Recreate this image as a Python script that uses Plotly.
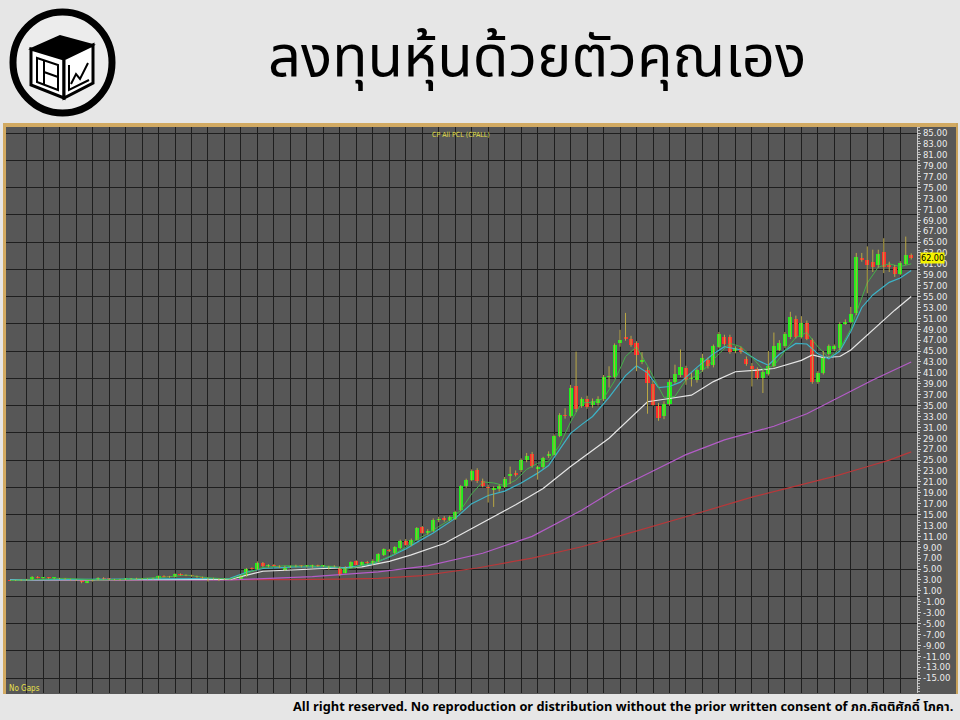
import plotly.graph_objects as go

W, H = 960, 720

# ---------------- data ----------------
opens = [2.90, 2.85, 2.90, 2.95, 3.05, 3.55, 3.35, 3.40, 3.30, 3.30,
         3.20, 3.10, 3.00, 2.90, 2.50, 2.80, 3.00, 3.40, 3.20, 3.10,
         3.00, 3.10, 3.20, 3.30, 3.15, 3.20, 3.25, 3.20, 3.70, 3.60,
         3.50, 4.00, 3.85, 3.80, 3.70, 3.50, 3.30, 3.25, 3.20, 3.15,
         3.10, 3.05, 3.20, 3.70, 5.10, 5.00, 6.10, 5.50, 5.80, 5.60,
         4.80, 5.40, 5.45, 5.60, 5.50, 5.30, 5.70, 5.50, 5.00, 5.50,
         5.40, 4.30, 5.40, 6.40, 5.80, 6.30, 6.00, 6.30, 7.50, 8.50,
         7.90, 8.90, 10.20, 9.40, 10.40, 12.70, 11.60, 11.90, 14.00, 14.30,
         14.00, 14.20, 15.80, 20.20, 21.40, 23.10, 21.20, 20.10, 19.50, 19.60,
         20.10, 22.00, 22.60, 23.20, 25.00, 26.20, 23.30, 23.80, 25.70, 26.00,
         29.40, 33.30, 33.00, 38.60, 34.90, 36.20, 35.10, 35.40, 36.20, 40.20,
         40.30, 46.50, 47.60, 47.30, 46.40, 43.00, 41.50, 38.90, 34.90, 33.00,
         35.30, 39.40, 40.60, 41.90, 39.80, 39.70, 41.50, 43.30, 42.40, 45.80,
         47.50, 47.60, 45.00, 45.50, 43.60, 42.30, 41.70, 40.00, 40.80, 42.20,
         45.20, 45.90, 47.50, 50.80, 47.60, 50.20, 47.00, 39.30, 41.00, 44.50,
         45.30, 45.50, 50.00, 50.40, 51.90, 62.10, 61.70, 61.40, 60.70, 63.10,
         60.70, 60.40, 59.20, 61.00, 62.60]
highs = [3.00, 3.00, 3.10, 3.20, 3.70, 3.70, 3.50, 3.50, 3.40, 3.40,
         3.30, 3.20, 3.10, 2.95, 2.80, 3.00, 3.50, 3.50, 3.30, 3.20,
         3.20, 3.30, 3.35, 3.40, 3.30, 3.30, 3.40, 3.80, 3.85, 3.75,
         4.20, 4.20, 4.00, 3.95, 3.80, 3.60, 3.40, 3.40, 3.30, 3.30,
         3.20, 3.20, 3.90, 5.20, 5.30, 6.40, 6.30, 5.90, 5.90, 5.70,
         5.60, 5.60, 5.80, 5.70, 5.70, 5.80, 5.80, 5.70, 5.60, 5.70,
         5.50, 5.50, 6.40, 6.60, 6.40, 6.50, 6.80, 7.90, 8.80, 8.70,
         9.20, 10.40, 10.50, 10.60, 12.70, 12.90, 12.30, 14.30, 14.60, 14.70,
         14.80, 15.70, 20.40, 21.60, 23.30, 23.50, 21.60, 20.50, 20.20, 20.50,
         21.90, 23.80, 23.10, 25.30, 26.30, 26.50, 24.00, 25.60, 26.60, 29.70,
         33.60, 34.50, 38.80, 44.90, 36.50, 36.80, 36.30, 36.70, 40.60, 42.20,
         46.40, 48.90, 52.00, 47.80, 46.80, 44.80, 42.00, 39.50, 35.50, 35.80,
         39.80, 42.50, 45.30, 42.30, 41.00, 41.80, 44.50, 43.80, 46.20, 48.50,
         48.00, 48.00, 45.90, 45.80, 44.00, 42.80, 42.00, 41.50, 45.00, 48.40,
         47.00, 48.50, 52.20, 51.50, 51.40, 50.60, 47.30, 41.30, 45.00, 46.20,
         46.20, 50.30, 50.80, 53.10, 63.00, 63.00, 64.20, 63.60, 63.60, 65.70,
         61.40, 60.80, 61.50, 66.00, 62.90]
lows = [2.80, 2.80, 2.80, 2.90, 3.00, 3.30, 3.20, 3.20, 3.10, 3.10,
        3.00, 2.90, 2.80, 2.40, 2.40, 2.70, 2.90, 3.10, 3.00, 2.90,
        2.90, 3.00, 3.05, 3.10, 3.00, 3.10, 3.10, 3.15, 3.50, 3.40,
        3.45, 3.80, 3.70, 3.60, 3.40, 3.20, 2.70, 3.10, 2.80, 3.00,
        3.00, 3.00, 3.10, 3.60, 4.90, 4.90, 5.40, 5.30, 5.50, 5.20,
        4.70, 5.20, 5.30, 5.30, 5.30, 5.20, 5.40, 5.30, 4.90, 5.30,
        3.70, 4.20, 5.30, 5.70, 5.70, 5.90, 5.80, 6.20, 7.40, 8.10,
        7.80, 8.70, 9.30, 9.20, 10.30, 11.50, 11.30, 11.80, 13.60, 13.70,
        13.80, 14.00, 15.60, 19.90, 21.10, 20.80, 20.00, 17.20, 16.40, 19.20,
        19.90, 20.60, 22.00, 22.80, 24.60, 23.60, 21.40, 23.40, 25.40, 25.80,
        29.20, 32.60, 32.80, 33.80, 34.60, 34.40, 34.60, 35.00, 35.80, 38.30,
        40.00, 45.80, 46.90, 45.80, 41.30, 42.60, 33.50, 35.00, 32.20, 32.50,
        35.00, 39.00, 40.20, 38.80, 38.50, 39.20, 41.20, 41.80, 42.00, 45.50,
        46.00, 44.50, 44.60, 44.50, 42.30, 38.50, 39.80, 37.30, 40.50, 42.00,
        45.00, 45.60, 47.20, 47.30, 47.30, 47.00, 39.00, 39.00, 40.70, 44.20,
        45.00, 45.20, 49.80, 50.10, 51.60, 61.40, 55.60, 59.50, 60.30, 59.30,
        59.50, 58.60, 58.90, 60.80, 61.80]
closes = [2.85, 2.90, 2.95, 3.05, 3.60, 3.40, 3.45, 3.30, 3.35, 3.20,
          3.10, 3.00, 2.95, 2.60, 2.75, 2.95, 3.40, 3.20, 3.10, 3.00,
          3.10, 3.25, 3.30, 3.15, 3.20, 3.25, 3.30, 3.70, 3.60, 3.55,
          4.10, 3.85, 3.80, 3.70, 3.50, 3.30, 3.25, 3.20, 3.15, 3.10,
          3.05, 3.15, 3.80, 5.10, 5.00, 6.20, 5.50, 5.80, 5.60, 5.40,
          5.40, 5.45, 5.65, 5.50, 5.60, 5.70, 5.50, 5.60, 5.50, 5.40,
          3.90, 5.40, 6.30, 5.80, 6.30, 6.10, 6.50, 7.70, 8.60, 8.30,
          9.00, 10.20, 9.50, 10.40, 12.50, 11.70, 12.00, 14.00, 14.20, 14.00,
          14.60, 15.50, 20.20, 21.40, 23.00, 21.10, 20.20, 19.80, 19.80, 20.20,
          21.60, 22.50, 22.30, 25.00, 25.80, 23.90, 23.80, 25.30, 26.10, 29.40,
          33.30, 33.00, 38.30, 34.30, 36.20, 34.70, 35.90, 36.20, 40.30, 40.40,
          46.10, 47.10, 47.30, 46.10, 44.30, 43.30, 39.10, 35.10, 32.70, 35.30,
          39.40, 40.80, 42.10, 39.70, 39.90, 41.50, 43.70, 42.30, 45.90, 48.20,
          46.30, 44.90, 45.50, 44.90, 42.70, 41.70, 40.00, 41.20, 42.20, 45.90,
          46.40, 48.20, 51.20, 47.60, 50.20, 47.30, 39.30, 41.00, 43.70, 45.90,
          45.90, 50.00, 50.40, 51.80, 62.30, 61.70, 60.80, 60.40, 62.80, 60.50,
          60.40, 59.20, 61.10, 62.60, 62.00]

# moving-average lines, read at sample bars
ma_green_idx = [0, 10, 16, 22, 28, 32, 36, 40, 43, 46, 50, 55, 59, 61, 64, 67, 70, 72, 74, 76,
                78, 80, 82, 84, 86, 88, 90, 92, 94, 96, 98, 100, 102, 104, 106, 108, 110, 112,
                114, 116, 118, 119, 121, 123, 125, 127, 129, 131, 133, 135, 137, 139, 141, 143,
                145, 147, 149, 151, 153, 154, 156, 158, 160, 162, 164]
ma_green_val = [2.9, 3.3, 3.0, 3.15, 3.5, 3.9, 3.4, 3.15, 4.2, 5.3, 5.6, 5.5, 5.5, 4.9, 5.6, 6.4,
                7.8, 9.0, 10.4, 11.5, 12.8, 14.0, 15.8, 18.8, 21.0, 20.8, 20.3, 21.3, 23.3, 24.4,
                24.8, 27.7, 32.0, 35.5, 35.6, 36.3, 39.5, 44.0, 45.8, 42.3, 38.4, 36.5, 36.7,
                39.7, 40.5, 42.3, 44.5, 46.4, 45.8, 43.9, 41.6, 42.3, 45.0, 47.5, 48.4, 45.8,
                43.8, 45.4, 49.0, 52.0, 57.5, 60.4, 61.0, 60.5, 61.0]

ma_cyan_idx = [0, 20, 40, 43, 46, 52, 58, 61, 66, 69, 72, 74, 77, 81, 84, 87, 90, 93, 96, 98,
               100, 102, 104, 106, 109, 112, 114, 116, 118, 120, 122, 125, 128, 130, 133, 136,
               138, 140, 143, 145, 147, 149, 151, 153, 155, 157, 160, 162, 164]
ma_cyan_val = [3.0, 3.2, 3.3, 4.4, 5.1, 5.4, 5.4, 5.2, 6.0, 7.2, 8.7, 9.9, 11.6, 14.3, 17.0,
               18.5, 19.3, 20.8, 22.6, 24.0, 27.0, 29.9, 31.5, 33.0, 36.5, 40.5, 42.3, 41.0,
               38.3, 38.5, 39.3, 42.0, 44.5, 45.8, 45.2, 43.3, 42.4, 44.4, 46.4, 46.3, 44.5,
               43.6, 45.0, 48.6, 53.0, 55.3, 57.6, 58.4, 59.8]

ma_white_idx = [0, 20, 40, 46, 58, 64, 69, 73, 79, 86, 92, 97, 102, 109, 116, 120, 124, 128,
                132, 136, 139, 144, 146, 148, 151, 153, 157, 161, 164]
ma_white_val = [3.0, 3.0, 3.1, 4.6, 5.1, 5.4, 6.4, 7.6, 9.7, 13.5, 16.8, 19.8, 23.8, 29.0,
                35.7, 36.3, 36.9, 39.4, 41.2, 41.5, 41.8, 43.3, 44.3, 43.8, 44.0, 45.2, 48.9,
                52.5, 55.0]

ma_violet_idx = [0, 20, 40, 45, 55, 67, 76, 86, 95, 104, 110, 117, 123, 130, 139, 145, 151,
                 157, 164]
ma_violet_val = [3.0, 3.0, 3.0, 3.2, 3.6, 4.5, 5.6, 7.9, 11.0, 15.8, 19.5, 23.0, 26.0, 28.7,
                 31.2, 33.5, 36.6, 39.7, 43.0]

ma_red_idx = [0, 20, 42, 50, 60, 67, 75, 85, 95, 104, 110, 117, 125, 135, 145, 150, 155,
              160, 164]
ma_red_val = [3.0, 3.0, 3.0, 3.05, 3.15, 3.3, 3.8, 5.2, 7.0, 9.1, 10.8, 12.8, 15.2, 18.2,
              20.8, 22.0, 23.5, 25.0, 26.5]

y_ticks = list(range(85, -16, -2))
last_price = 62.00

title_text = "ลงทุนหุ้นด้วยตัวคุณเอง"
chart_name = "CP All PCL (CPALL)"
footer_text = ("All right reserved. No reproduction or distribution without the prior "
               "written consent of ภก.กิตติศักดิ์ โภคา.")

# ---------------- helpers ----------------
def px(x):
    return x / W


def py(y):
    return 1 - y / H


bars = list(range(len(closes)))

fig = go.Figure()

# moving averages (drawn under the candles)
for idx, val, col, wd in [
    (ma_red_idx, ma_red_val, "#b8383a", 1.2),
    (ma_violet_idx, ma_violet_val, "#b45cc8", 1.2),
    (ma_white_idx, ma_white_val, "#e6e6e6", 1.2),
    (ma_cyan_idx, ma_cyan_val, "#3cb4c8", 1.2),
    (ma_green_idx, ma_green_val, "#44b04a", 1.0),
]:
    fig.add_trace(go.Scatter(x=idx, y=val, mode="lines", line=dict(color=col, width=wd),
                             hoverinfo="skip", showlegend=False))

# wicks
wx, wy = [], []
for i in bars:
    wx += [i, i, None]
    wy += [lows[i], highs[i], None]
fig.add_trace(go.Scatter(x=wx, y=wy, mode="lines", line=dict(color="#b9a744", width=1),
                         hoverinfo="skip", showlegend=False))

# bodies
up_x, up_b, up_h, dn_x, dn_b, dn_h = [], [], [], [], [], []
for i in bars:
    o, c = opens[i], closes[i]
    b = min(o, c)
    h = max(abs(c - o), 0.2)
    if c >= o:
        up_x.append(i); up_b.append(b); up_h.append(h)
    else:
        dn_x.append(i); dn_b.append(b); dn_h.append(h)
fig.add_trace(go.Bar(x=up_x, y=up_h, base=up_b, width=0.74, marker=dict(color="#1cf01c", line=dict(width=0)),
                     hoverinfo="skip", showlegend=False))
fig.add_trace(go.Bar(x=dn_x, y=dn_h, base=dn_b, width=0.74, marker=dict(color="#ff2b2b", line=dict(width=0)),
                     hoverinfo="skip", showlegend=False))

ymin, ymax = -17.74, 86.11
grid_col = "#1e1e1e"

shapes = []
# chart panel background and frame
shapes.append(dict(type="rect", xref="paper", yref="paper", x0=px(3), x1=px(958), y0=py(694), y1=py(124),
                   fillcolor="#575757", line=dict(width=0), layer="below"))
shapes.append(dict(type="rect", xref="paper", yref="paper", x0=px(3), x1=px(958), y0=py(127), y1=py(123),
                   fillcolor="#d2aa62", line=dict(width=0)))
shapes.append(dict(type="rect", xref="paper", yref="paper", x0=px(3), x1=px(6), y0=py(694), y1=py(123),
                   fillcolor="#d2aa62", line=dict(width=0)))
shapes.append(dict(type="rect", xref="paper", yref="paper", x0=px(956), x1=px(958), y0=py(694), y1=py(123),
                   fillcolor="#c9a35c", line=dict(width=0)))

# logo
shapes.append(dict(type="circle", xref="paper", yref="paper", x0=px(13), x1=px(112), y0=py(113), y1=py(12),
                   line=dict(color="black", width=7), fillcolor="#ececec"))


def path(pts, close=True):
    s = "M " + " L ".join(f"{px(a):.5f},{py(b):.5f}" for a, b in pts)
    return s + (" Z" if close else "")


shapes.append(dict(type="path", xref="paper", yref="paper",
                   path=path([(31, 49), (60, 36), (93, 45), (64, 59)]),
                   fillcolor="black", line=dict(color="black", width=2)))
shapes.append(dict(type="path", xref="paper", yref="paper",
                   path=path([(31, 49), (64, 59), (64, 98), (31, 85)]),
                   fillcolor="white", line=dict(color="black", width=3)))
shapes.append(dict(type="path", xref="paper", yref="paper",
                   path=path([(64, 59), (93, 45), (93, 83), (64, 98)]),
                   fillcolor="white", line=dict(color="black", width=3)))
shapes.append(dict(type="path", xref="paper", yref="paper",
                   path=path([(37, 58), (58, 65), (58, 90), (37, 82)]),
                   fillcolor="rgba(0,0,0,0)", line=dict(color="black", width=2)))
shapes.append(dict(type="path", xref="paper", yref="paper",
                   path=path([(44, 60), (44, 85)], close=False),
                   line=dict(color="black", width=2)))
shapes.append(dict(type="path", xref="paper", yref="paper",
                   path=path([(44, 72), (58, 77)], close=False),
                   line=dict(color="black", width=2)))
shapes.append(dict(type="path", xref="paper", yref="paper",
                   path=path([(69, 65), (69, 90), (89, 80)], close=False),
                   line=dict(color="black", width=2)))
shapes.append(dict(type="path", xref="paper", yref="paper",
                   path=path([(71, 84), (76, 74), (80, 79), (88, 63)], close=False),
                   line=dict(color="black", width=2)))

annotations = [
    dict(text=title_text, x=px(537), y=py(58), xref="paper", yref="paper", showarrow=False,
         xanchor="center", yanchor="middle",
         font=dict(family="Noto Sans Thai, Loma, Garuda, Noto Sans, sans-serif", size=58, color="black")),
    dict(text=chart_name, x=px(461), y=py(135), xref="paper", yref="paper", showarrow=False,
         xanchor="center", yanchor="middle", font=dict(family="Liberation Sans Narrow, DejaVu Sans Condensed, Arial", size=7, color="#e6e04a")),
    dict(text="No Gaps", x=px(7), y=py(688), xref="paper", yref="paper", showarrow=False,
         xanchor="left", yanchor="middle", font=dict(family="Liberation Sans Narrow, DejaVu Sans Condensed, Arial", size=8, color="#e6e04a")),
    dict(text=f"{last_price:.2f}", x=px(920), y=last_price, xref="paper", yref="y", showarrow=False,
         xanchor="left", yanchor="middle", bgcolor="#f4f400", borderpad=0,
         font=dict(family="Liberation Sans Narrow, DejaVu Sans Condensed, Arial", size=9, color="black")),
    dict(text="<b>" + footer_text + "</b>", x=px(955), y=py(707), xref="paper", yref="paper",
         showarrow=False, xanchor="right", yanchor="middle",
         font=dict(family="Noto Sans Thai, Noto Sans, Loma, sans-serif", size=12.8, color="black")),
]

fig.update_layout(
    width=W, height=H, margin=dict(l=0, r=0, t=0, b=0),
    paper_bgcolor="#e6e6e6", plot_bgcolor="#575757",
    barmode="overlay", bargap=0, showlegend=False,
    shapes=shapes, annotations=annotations,
    xaxis=dict(domain=[px(6), px(917)], range=[-0.76, 165.05],
               tickvals=list(range(3, 166, 3)), showticklabels=False, ticks="",
               showgrid=True, gridcolor=grid_col, gridwidth=1, zeroline=False, showline=False,
               fixedrange=True),
    yaxis=dict(domain=[py(693), py(127)], range=[ymin, ymax], side="right",
               tickvals=y_ticks, ticktext=[f"{v:.2f}" for v in y_ticks],
               tickfont=dict(family="Liberation Sans Narrow, DejaVu Sans Condensed, Arial Narrow", size=9.5, color="#ececec"),
               showgrid=False, zeroline=False, ticks="outside", ticklen=3, tickcolor="#d0d0d0",
               showline=True, linecolor="#c8c8c8", linewidth=1,
               minor=dict(ticks="outside", ticklen=2, tickcolor="#bdbdbd", dtick=0.5, showgrid=False),
               fixedrange=True),
    yaxis2=dict(overlaying="y", range=[ymin, ymax], side="left", tick0=0, dtick=5,
                showticklabels=False, showgrid=True, gridcolor=grid_col, gridwidth=1,
                zeroline=False, showline=False, ticks="", fixedrange=True),
)

# invisible trace to activate the grid axis
fig.add_trace(go.Scatter(x=[0], y=[0], yaxis="y2", mode="markers", marker=dict(opacity=0),
                         hoverinfo="skip", showlegend=False))

fig.write_html("out.html", config={"displayModeBar": False, "staticPlot": True},
               post_script="document.body.style.margin='0px';document.body.style.overflow='hidden';")
